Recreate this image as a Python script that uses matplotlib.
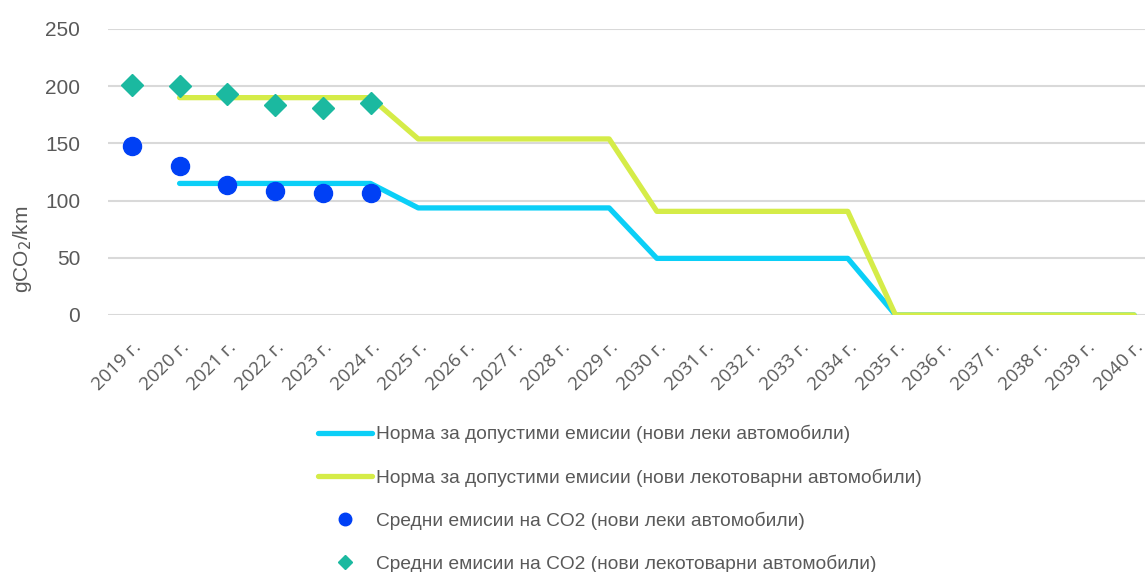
import matplotlib.pyplot as plt
from matplotlib.lines import Line2D
import numpy as np

years = [f'{y} г.' for y in range(2019, 2041)]

# norms (None = no value)
norm_cars = [None, 115, 115, 115, 115, 115, 93.6, 93.6, 93.6, 93.6, 93.6,
             49.5, 49.5, 49.5, 49.5, 49.5, 0, 0, 0, 0, 0, 0]
norm_vans = [None, 190, 190, 190, 190, 190, 153.9, 153.9, 153.9, 153.9, 153.9,
             90.6, 90.6, 90.6, 90.6, 90.6, 0, 0, 0, 0, 0, 0]
avg_cars = [148, 130, 114, 108, 106.5, 107]
avg_vans = [201, 200.5, 193.5, 184, 181, 185.5]

labels = ['Норма за допустими емисии (нови леки автомобили)',
          'Норма за допустими емисии (нови лекотоварни автомобили)',
          'Средни емисии на CO2 (нови леки автомобили)',
          'Средни емисии на CO2 (нови лекотоварни автомобили)']

plt.rcParams['font.family'] = ['Liberation Sans', 'DejaVu Sans']
grey = '#595959'
c_cars = '#0BCFF7'
c_vans = '#D5EC48'
c_dot = '#0040F5'
c_dia = '#1BB9A0'

fig = plt.figure(figsize=(11.45, 5.72), dpi=100)
ax = fig.add_axes([108/1145, 1 - 315/572, 1050/1145, 286/572])

x = np.arange(len(years))
nc = np.array([np.nan if v is None else v for v in norm_cars])
nv = np.array([np.nan if v is None else v for v in norm_vans])

ax.plot(x, nc, color=c_cars, lw=3.8, solid_capstyle='round', zorder=3)
ax.plot(x, nv, color=c_vans, lw=3.8, solid_capstyle='round', zorder=3)
ax.plot(x[:len(avg_cars)], avg_cars, 'o', color=c_dot, ms=13, ls='none', zorder=4)
ax.plot(x[:len(avg_vans)], avg_vans, 'D', color=c_dia, ms=11.5, ls='none', zorder=4)

ax.set_xlim(-0.5, len(years) - 0.5)
ax.set_ylim(0, 250)
ax.set_yticks(range(0, 251, 50))
ax.grid(axis='y', color='#D9D9D9', lw=1.5)
ax.set_axisbelow(True)
for s in ax.spines.values():
    s.set_visible(False)
ax.tick_params(length=0)
ax.tick_params(axis='y', labelsize=15, labelcolor=grey, pad=20)
ax.set_xticks(x)
ax.set_xticklabels(years, rotation=45, ha='right', rotation_mode='anchor',
                   fontsize=13.5, color=grey, family=['Open Sans', 'DejaVu Sans'])
ax.tick_params(axis='x', pad=17)
ax.set_ylabel('gCO$_2$/km', fontsize=15, color=grey)
ax.yaxis.set_label_coords(-0.07, 0.23)

handles = [Line2D([], [], color=c_cars, lw=3.8, solid_capstyle='round'),
           Line2D([], [], color=c_vans, lw=3.8, solid_capstyle='round'),
           Line2D([], [], color=c_dot, marker='o', ms=9, ls='none'),
           Line2D([], [], color=c_dia, marker='D', ms=7, ls='none')]
fig.legend(handles, labels, loc='upper left', bbox_to_anchor=(318/1145, 1 - 425/572),
           frameon=False, fontsize=13.8, labelcolor=grey, handlelength=2.8,
           handletextpad=0.2, labelspacing=1.3, borderaxespad=0, borderpad=0)

fig.savefig('out.png', dpi=100)
